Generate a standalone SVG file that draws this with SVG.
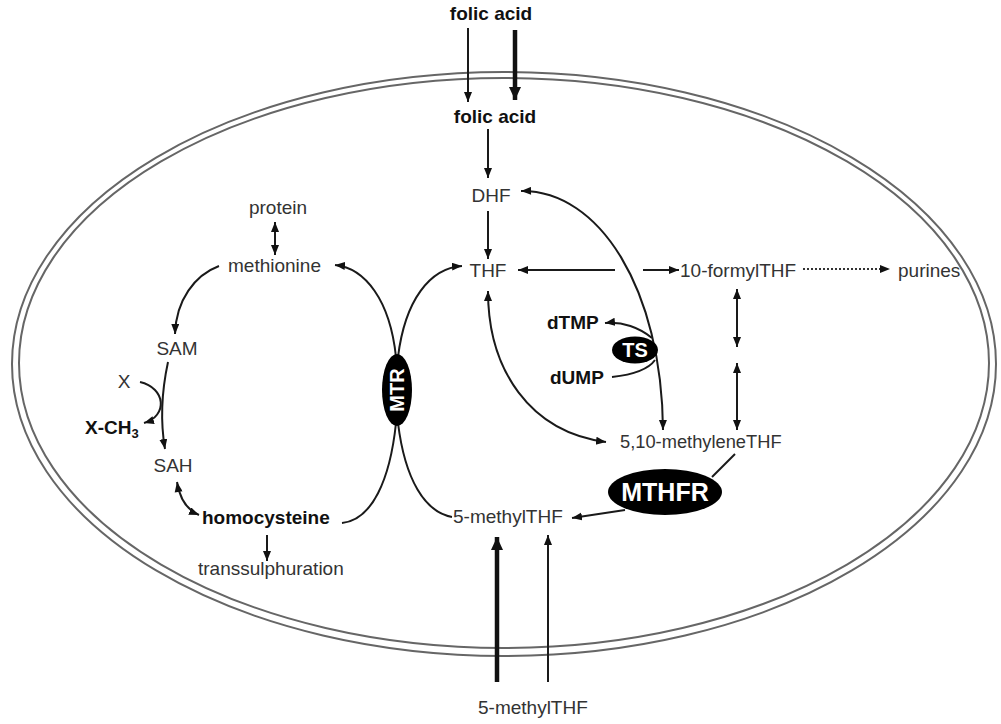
<svg xmlns="http://www.w3.org/2000/svg" width="1001" height="724" viewBox="0 0 1001 724">
<style>
.t{font-family:"Liberation Sans",Arial,sans-serif;font-size:19px;fill:#333}
.b{font-family:"Liberation Sans",Arial,sans-serif;font-size:19px;font-weight:bold;fill:#111}
.w{font-family:"Liberation Sans",Arial,sans-serif;font-weight:bold;fill:#fff}
.l{fill:none;stroke:#1a1a1a;stroke-width:2}
.la{fill:none;stroke:#1a1a1a;stroke-width:2;marker-end:url(#ah)}
.lb{fill:none;stroke:#1a1a1a;stroke-width:2;marker-end:url(#ah);marker-start:url(#as)}
.m{fill:none;stroke:#666;stroke-width:2}
</style>
<defs>
<marker id="ah" markerUnits="userSpaceOnUse" markerWidth="12" markerHeight="10" refX="10" refY="4" orient="auto"><path d="M0,0 L10,4 L0,8 Z" fill="#111"/></marker>
<marker id="as" markerUnits="userSpaceOnUse" markerWidth="12" markerHeight="10" refX="0" refY="4" orient="auto"><path d="M10,0 L0,4 L10,8 Z" fill="#111"/></marker>
<marker id="ahb" markerUnits="userSpaceOnUse" markerWidth="16" markerHeight="14" refX="13" refY="6" orient="auto"><path d="M0,0 L13,6 L0,12 Z" fill="#111"/></marker>
</defs>

<g id="membrane">
<ellipse class="m" cx="504" cy="364" rx="492" ry="292"/>
<ellipse class="m" cx="504" cy="363" rx="485" ry="285"/>
</g>

<g id="connectors">
<line class="la" x1="468" y1="28" x2="468" y2="102"/>
<line x1="515" y1="30" x2="515" y2="100" stroke="#111" stroke-width="4.5" marker-end="url(#ahb)"/>
<line class="la" x1="488" y1="129" x2="488" y2="178"/>
<line class="la" x1="488" y1="211" x2="488" y2="259"/>
<line class="la" x1="615" y1="270" x2="518" y2="270"/>
<line class="la" x1="643" y1="270" x2="679" y2="270"/>
<line x1="803" y1="269" x2="880" y2="269" stroke="#333" stroke-width="2" stroke-dasharray="2,2"/>
<path d="M880,265 L890,269 L880,273 Z" fill="#111"/>
<path class="lb" d="M521,191 C600,190 662,290 663,430"/>
<path class="lb" d="M488,291 C488,370 530,432 606,442"/>
<line class="lb" x1="737" y1="289" x2="737" y2="347"/>
<line class="lb" x1="737" y1="363" x2="737" y2="430"/>
<path class="la" d="M652,338 C640,328 622,321 605,323"/>
<path class="l" d="M612,377 C630,375 648,370 655,360"/>
<line class="l" x1="735" y1="454" x2="712" y2="477"/>
<line class="la" x1="625" y1="510" x2="572" y2="518"/>
<line x1="497" y1="682" x2="497" y2="537" stroke="#111" stroke-width="4.5" marker-end="url(#ahb)"/>
<line class="la" x1="548" y1="682" x2="548" y2="535"/>
<path class="la" d="M396,357 C390,300 365,268 335,265"/>
<path class="la" d="M398,357 C405,300 430,268 462,266"/>
<path class="l" d="M396,423 C390,480 372,520 342,523"/>
<path class="l" d="M398,423 C405,480 425,512 452,517"/>
<line class="lb" x1="275" y1="222" x2="275" y2="255"/>
<path class="la" d="M219,266 C195,275 176,300 175,334"/>
<path class="la" d="M168,362 C162,390 160,420 165,449"/>
<path class="la" d="M140,382 C166,388 168,416 144,423"/>
<path class="lb" d="M177,482 C180,500 187,510 199,515"/>
<line class="la" x1="267" y1="535" x2="267" y2="561"/>
</g>

<g id="folic_out"><text class="b" x="491" y="20" text-anchor="middle">folic acid</text></g>
<g id="folic_in"><text class="b" x="495" y="123" text-anchor="middle">folic acid</text></g>
<g id="DHF"><text class="t" x="491" y="202" text-anchor="middle">DHF</text></g>
<g id="THF"><text class="t" x="488" y="277" text-anchor="middle">THF</text></g>
<g id="formylTHF"><text class="t" x="680" y="277">10-formylTHF</text></g>
<g id="purines"><text class="t" x="898" y="277">purines</text></g>
<g id="dTMP"><text class="b" x="547" y="329">dTMP</text></g>
<g id="dUMP"><text class="b" x="550" y="384">dUMP</text></g>
<g id="TS"><ellipse cx="635" cy="350" rx="23" ry="13.5" fill="#000"/><text class="w" x="635" y="357" font-size="20" text-anchor="middle">TS</text></g>
<g id="methyleneTHF"><text class="t" x="620" y="448" style="font-size:18.3px">5,10-methyleneTHF</text></g>
<g id="MTHFR"><ellipse cx="665" cy="492" rx="57" ry="23" fill="#000"/><text class="w" x="665" y="501" font-size="25" text-anchor="middle">MTHFR</text></g>
<g id="methylTHF_in"><text class="t" x="453" y="523">5-methylTHF</text></g>
<g id="methylTHF_out"><text class="t" x="478" y="714">5-methylTHF</text></g>
<g id="MTR"><ellipse cx="397" cy="390" rx="15" ry="36" fill="#000"/><text class="w" x="0" y="0" font-size="20" text-anchor="middle" transform="translate(404 390) rotate(-90)">MTR</text></g>
<g id="protein"><text class="t" x="278" y="214" text-anchor="middle">protein</text></g>
<g id="methionine"><text class="t" x="228" y="272">methionine</text></g>
<g id="SAM"><text class="t" x="177" y="355" text-anchor="middle">SAM</text></g>
<g id="X"><text class="t" x="124" y="388" text-anchor="middle">X</text></g>
<g id="XCH3"><text class="b" x="85" y="434">X-CH<tspan font-size="13" dy="4">3</tspan></text></g>
<g id="SAH"><text class="t" x="173" y="472" text-anchor="middle">SAH</text></g>
<g id="homocysteine"><text class="b" x="202" y="524">homocysteine</text></g>
<g id="transsulphuration"><text class="t" x="198" y="575">transsulphuration</text></g>
</svg>
